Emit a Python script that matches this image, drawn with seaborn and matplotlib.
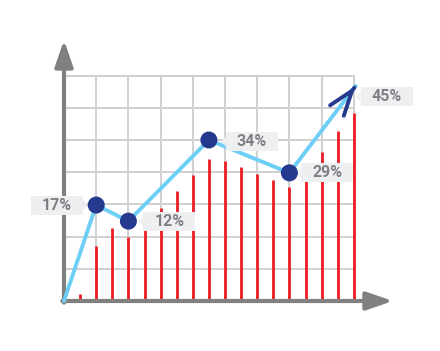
import matplotlib
matplotlib.use("Agg")
import matplotlib.pyplot as plt
import seaborn as sns
import pandas as pd
from matplotlib.patches import Rectangle, Polygon

# bar heights (grid units), one bar every half grid column
bar_x = [0.5, 1, 1.5, 2, 2.5, 3, 3.5, 4, 4.5, 5, 5.5, 6, 6.5, 7, 7.5, 8, 8.5, 9]
bar_h = [0.22, 1.71, 2.27, 2.0, 2.36, 2.89, 3.42, 3.9, 4.41, 4.35, 4.16, 3.94,
         3.76, 3.54, 3.82, 4.63, 5.28, 5.84]

# trend line: start, 4 dots, arrow tip
line_x = [0, 1, 2, 4.5, 7, 9.06]
line_y = [0, 2.98, 2.48, 5.0, 3.98, 6.68]
labels = ["17%", "12%", "34%", "29%", "45%"]

S = 32.2  # pixels per grid unit
ncols, nrows = 9, 7

sns.set_style("white")
fig = plt.figure(figsize=(4.4, 3.51), dpi=100)
ax = fig.add_axes([0, 0, 1, 1])
ax.set_xlim(-64 / S, 376 / S)
ax.set_ylim(-50 / S, 301 / S)
ax.axis("off")

grid_c = "#d0d0d0"
for i in range(1, ncols + 1):
    ax.plot([i, i], [0, nrows], color=grid_c, lw=1.4, zorder=1)
for j in range(1, nrows + 1):
    ax.plot([0, ncols], [j, j], color=grid_c, lw=1.4, zorder=1)

# red bars
ax.vlines(bar_x, 0, bar_h, color="#ed1c24", lw=2.0, zorder=2)

# axes with arrows
axis_c = "#808080"
ax.annotate("", xy=(0, 261 / S), xytext=(0, -0.05),
            arrowprops=dict(arrowstyle="-|>,head_length=1.6,head_width=0.55",
                            mutation_scale=10, color=axis_c, lw=3,
                            shrinkA=0, shrinkB=0), zorder=3)
ax.annotate("", xy=(329 / S, 0), xytext=(-0.05, 0),
            arrowprops=dict(arrowstyle="-|>,head_length=1.6,head_width=0.55",
                            mutation_scale=10, color=axis_c, lw=3,
                            shrinkA=0, shrinkB=0), zorder=3)

# blue trend line
df = pd.DataFrame({"x": line_x, "y": line_y})
sns.lineplot(data=df, x="x", y="y", color="#6dcff6", lw=2.8, sort=False,
             ax=ax, zorder=4)

# arrow head at the end of the line
tip = (line_x[-1], line_y[-1])
dx, dy = line_x[-1] - line_x[-2], line_y[-1] - line_y[-2]
ax.annotate("", xy=tip, xytext=(tip[0] - dx * 0.02, tip[1] - dy * 0.02),
            arrowprops=dict(arrowstyle="->,head_length=1.8,head_width=0.62",
                            mutation_scale=10, color="#253a8e", lw=2.8,
                            shrinkA=0, shrinkB=0), zorder=6)

# navy dots
sns.scatterplot(x=line_x[1:5], y=line_y[1:5], s=150, color="#253a8e",
                edgecolor="none", ax=ax, zorder=6)

# label boxes (offsets in pixels from each point)
offsets = [(-39, 0), (41, 0), (43, -1.5), (38, 0), (31, -11)]
box_w, box_h = 52 / S, 19 / S
box_c = "#eeeff0"
for (px, py), lab, (ox, oy) in zip(zip(line_x[1:], line_y[1:]), labels, offsets):
    cx, cy = px + ox / S, py + oy / S
    ax.add_patch(Rectangle((cx - box_w / 2, cy - box_h / 2), box_w, box_h,
                           fc=box_c, ec="none", zorder=5))
    side = -1 if ox > 0 else 1
    ex = cx + side * box_w / 2
    ax.add_patch(Polygon([(ex, cy + 5 / S), (ex, cy - 5 / S),
                          (ex + side * 5 / S, cy)],
                         closed=True, fc=box_c, ec="none", zorder=5))
    ax.text(cx, cy, lab, ha="center", va="center", fontsize=11.5,
            fontweight="bold", family="Roboto", color="#7f8083", zorder=7)

fig.savefig("out.png", dpi=100)
